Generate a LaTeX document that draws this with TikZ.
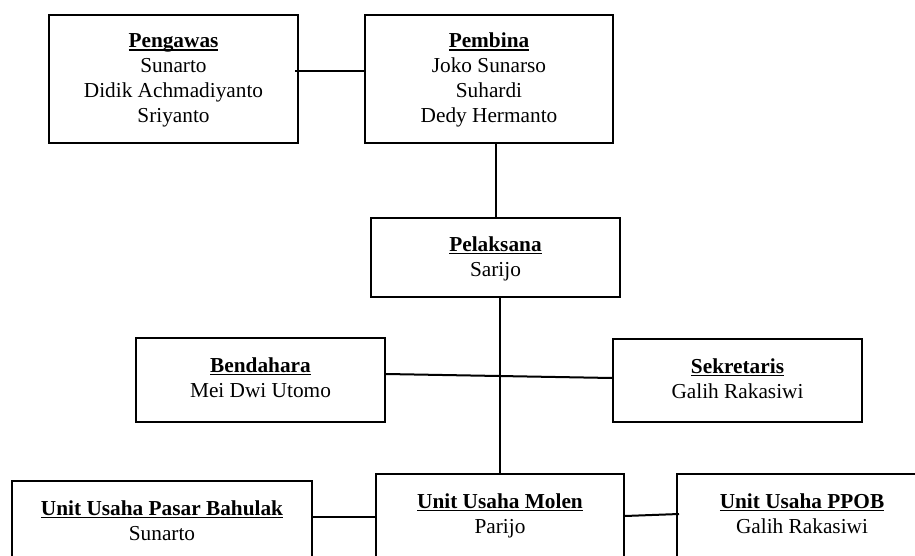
\documentclass[tikz,border=0pt]{standalone}
\usepackage{fontspec}
\setmainfont{Liberation Serif}
\usetikzlibrary{positioning}

\newcommand{\ttl}[1]{\setbox0\hbox{\textbf{#1}}\rlap{\rule[-3pt]{\wd0}{1.5pt}}\box0\vphantom{Pb}}

\begin{document}
\begin{tikzpicture}[x = 1pt, y = -1pt,
    box/.style = {shape = rectangle, draw = black, line width = 2pt, minimum height = 84pt, inner sep = 0pt},
    txt/.style = {anchor = north, align = center, inner sep = 0pt, font = \fontsize{21.3}{24.7}\selectfont},
    conn/.style = {draw = black, line width = 2pt},
    ]
    \useasboundingbox (0, 0) rectangle (915, 556);

    \node[box, minimum width = 249pt, minimum height = 128pt] (Pengawas) at (173.5, 79) {};
    \node[txt] (PengawasT) at ([yshift = -19pt]Pengawas.north) {\ttl{Pengawas}\\ Sunarto\\ Didik Achmadiyanto\\ Sriyanto};
    \node[box, minimum width = 248pt, minimum height = 128pt] (Pembina) at (489, 79) {};
    \node[txt] (PembinaT) at ([yshift = -19pt]Pembina.north) {\ttl{Pembina}\\ Joko Sunarso\\ Suhardi\\ Dedy Hermanto};

    \path[conn] ([xshift = -4pt, yshift = 8pt]Pengawas.east) edge ([yshift = 8pt]Pembina.west);

    \node[box, minimum width = 249pt, minimum height = 79pt] (Pelaksana) at (495.5, 257.5) {};
    \node[txt] (PelaksanaT) at ([yshift = -19.5pt]Pelaksana.north) {\ttl{Pelaksana}\\ Sarijo};

    \path[conn] (Pelaksana.north |- Pembina.south) edge (Pelaksana.north);

    \node[box, minimum width = 249pt] (Bendahara) at (260.5, 380) {};
    \node[txt] (BendaharaT) at ([yshift = -20.5pt]Bendahara.north) {\ttl{Bendahara}\\ Mei Dwi Utomo};
    \node[box, minimum width = 249pt, minimum height = 83pt] (Sekretaris) at (737.5, 380.5) {};
    \node[txt] (SekretarisT) at ([yshift = -20.5pt]Sekretaris.north) {\ttl{Sekretaris}\\ Galih Rakasiwi};

    \path[conn] ([yshift = 6pt]Bendahara.east) edge ([yshift = 2.5pt]Sekretaris.west);

    \node[box, minimum width = 300pt] (Pasar) at (162, 523) {};
    \node[txt] (PasarT) at ([yshift = -20.5pt]Pasar.north) {\ttl{Unit Usaha Pasar Bahulak}\\ Sunarto};
    \node[box, minimum width = 248pt, minimum height = 90pt] (Molen) at (500, 519) {};
    \node[txt] (MolenT) at ([yshift = -20.5pt]Molen.north) {\ttl{Unit Usaha Molen}\\ Parijo};
    \node[box, minimum width = 250pt, minimum height = 90pt] (PPOB) at (802, 519) {};
    \node[txt] (PPOBT) at ([yshift = -20.5pt]PPOB.north) {\ttl{Unit Usaha PPOB}\\ Galih Rakasiwi};

    \path[conn] (Molen.north |- Pelaksana.south) edge (Molen.north);
    \path[conn] ([yshift = 6pt]Pasar.east) edge ([yshift = 2pt]Molen.west);
    \path[conn] ([yshift = 3pt]Molen.east) edge ([xshift = 3pt, yshift = 5pt]PPOB.west);
\end{tikzpicture}
\end{document}
